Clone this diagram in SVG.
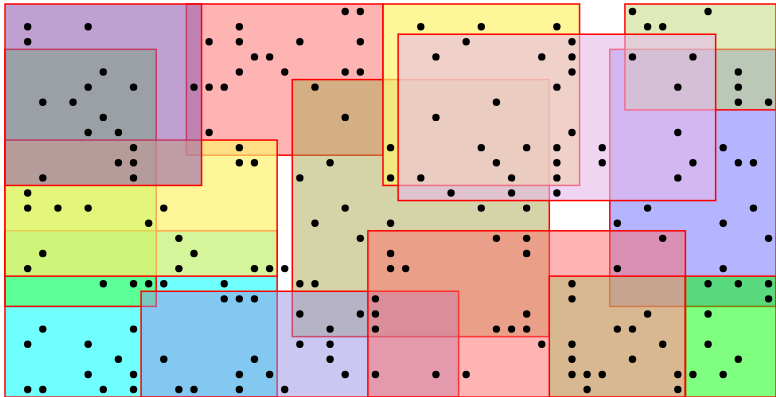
<svg xmlns="http://www.w3.org/2000/svg" width="776" height="397" viewBox="0 0 776 397">
<style>
.box{stroke:#ff0000;stroke-width:1.5}
.pt{fill:#000}
</style>
<rect width="776" height="397" fill="#ffffff"/>
<g id="boxes">
<rect id="pink-top" class="box" x="186.44" y="4" width="196.56" height="151.2" fill="#ff6969" fill-opacity="0.5"/>
<rect id="cyan" class="box" x="5" y="230.8" width="272.16" height="166.32" fill="#00ffff" fill-opacity="0.56"/>
<rect id="green-left" class="box" x="5" y="49.36" width="151.2" height="257.04" fill="#46ff32" fill-opacity="0.5"/>
<rect id="yellow-left" class="box" x="5" y="140.08" width="272.16" height="136.08" fill="#fff16e" fill-opacity="0.7"/>
<rect id="purple" class="box" x="5" y="4" width="196.56" height="181.44" fill="#9661b1" fill-opacity="0.6"/>
<rect id="olive" class="box" x="292.28" y="79.6" width="257.04" height="257.04" fill="#a9a951" fill-opacity="0.5"/>
<rect id="yellow-top" class="box" x="383" y="4" width="196.56" height="181.44" fill="#fff16e" fill-opacity="0.7"/>
<rect id="blue-right" class="box" x="609.8" y="49.36" width="166.32" height="257.04" fill="#6969ff" fill-opacity="0.5"/>
<rect id="lightgreen-top" class="box" x="624.92" y="4" width="151.2" height="105.84" fill="#c2d97c" fill-opacity="0.55"/>
<rect id="lavender" class="box" x="398.12" y="34.24" width="317.52" height="166.32" fill="#e6b9eb" fill-opacity="0.6"/>
<rect id="blue-bottom" class="box" x="141.08" y="291.28" width="317.52" height="105.84" fill="#9691e1" fill-opacity="0.5"/>
<rect id="pink-bottom" class="box" x="367.88" y="230.8" width="317.52" height="166.32" fill="#ff6969" fill-opacity="0.5"/>
<rect id="tan" class="box" x="549.32" y="276.16" width="136.08" height="120.96" fill="#b1bc6c" fill-opacity="0.5"/>
<rect id="green-right" class="box" x="685.4" y="276.16" width="90.72" height="120.96" fill="#00ff00" fill-opacity="0.5"/>
</g>
<g id="points" class="pt">
<circle cx="345.2" cy="11.56" r="3.7"/><circle cx="360.32" cy="11.56" r="3.7"/><circle cx="632.48" cy="11.56" r="3.7"/><circle cx="708.08" cy="11.56" r="3.7"/>
<circle cx="27.68" cy="26.68" r="3.7"/><circle cx="88.16" cy="26.68" r="3.7"/><circle cx="239.36" cy="26.68" r="3.7"/><circle cx="420.8" cy="26.68" r="3.7"/><circle cx="481.28" cy="26.68" r="3.7"/><circle cx="556.88" cy="26.68" r="3.7"/><circle cx="647.6" cy="26.68" r="3.7"/><circle cx="662.72" cy="26.68" r="3.7"/>
<circle cx="27.68" cy="41.8" r="3.7"/><circle cx="209.12" cy="41.8" r="3.7"/><circle cx="239.36" cy="41.8" r="3.7"/><circle cx="299.84" cy="41.8" r="3.7"/><circle cx="360.32" cy="41.8" r="3.7"/><circle cx="466.16" cy="41.8" r="3.7"/><circle cx="572" cy="41.8" r="3.7"/>
<circle cx="254.48" cy="56.92" r="3.7"/><circle cx="269.6" cy="56.92" r="3.7"/><circle cx="435.92" cy="56.92" r="3.7"/><circle cx="541.76" cy="56.92" r="3.7"/><circle cx="572" cy="56.92" r="3.7"/><circle cx="632.48" cy="56.92" r="3.7"/><circle cx="692.96" cy="56.92" r="3.7"/>
<circle cx="103.28" cy="72.04" r="3.7"/><circle cx="239.36" cy="72.04" r="3.7"/><circle cx="284.72" cy="72.04" r="3.7"/><circle cx="345.2" cy="72.04" r="3.7"/><circle cx="360.32" cy="72.04" r="3.7"/><circle cx="572" cy="72.04" r="3.7"/><circle cx="738.32" cy="72.04" r="3.7"/>
<circle cx="88.16" cy="87.16" r="3.7"/><circle cx="133.52" cy="87.16" r="3.7"/><circle cx="194" cy="87.16" r="3.7"/><circle cx="209.12" cy="87.16" r="3.7"/><circle cx="224.24" cy="87.16" r="3.7"/><circle cx="314.96" cy="87.16" r="3.7"/><circle cx="556.88" cy="87.16" r="3.7"/><circle cx="677.84" cy="87.16" r="3.7"/><circle cx="738.32" cy="87.16" r="3.7"/>
<circle cx="42.8" cy="102.28" r="3.7"/><circle cx="73.04" cy="102.28" r="3.7"/><circle cx="496.4" cy="102.28" r="3.7"/><circle cx="738.32" cy="102.28" r="3.7"/><circle cx="768.56" cy="102.28" r="3.7"/>
<circle cx="103.28" cy="117.4" r="3.7"/><circle cx="345.2" cy="117.4" r="3.7"/><circle cx="435.92" cy="117.4" r="3.7"/>
<circle cx="88.16" cy="132.52" r="3.7"/><circle cx="118.4" cy="132.52" r="3.7"/><circle cx="209.12" cy="132.52" r="3.7"/><circle cx="572" cy="132.52" r="3.7"/><circle cx="677.84" cy="132.52" r="3.7"/>
<circle cx="133.52" cy="147.64" r="3.7"/><circle cx="239.36" cy="147.64" r="3.7"/><circle cx="390.56" cy="147.64" r="3.7"/><circle cx="481.28" cy="147.64" r="3.7"/><circle cx="526.64" cy="147.64" r="3.7"/><circle cx="556.88" cy="147.64" r="3.7"/><circle cx="602.24" cy="147.64" r="3.7"/><circle cx="723.2" cy="147.64" r="3.7"/>
<circle cx="118.4" cy="162.76" r="3.7"/><circle cx="133.52" cy="162.76" r="3.7"/><circle cx="239.36" cy="162.76" r="3.7"/><circle cx="254.48" cy="162.76" r="3.7"/><circle cx="330.08" cy="162.76" r="3.7"/><circle cx="496.4" cy="162.76" r="3.7"/><circle cx="556.88" cy="162.76" r="3.7"/><circle cx="602.24" cy="162.76" r="3.7"/><circle cx="692.96" cy="162.76" r="3.7"/><circle cx="738.32" cy="162.76" r="3.7"/><circle cx="753.44" cy="162.76" r="3.7"/>
<circle cx="42.8" cy="177.88" r="3.7"/><circle cx="133.52" cy="177.88" r="3.7"/><circle cx="299.84" cy="177.88" r="3.7"/><circle cx="390.56" cy="177.88" r="3.7"/><circle cx="420.8" cy="177.88" r="3.7"/><circle cx="511.52" cy="177.88" r="3.7"/><circle cx="556.88" cy="177.88" r="3.7"/><circle cx="677.84" cy="177.88" r="3.7"/>
<circle cx="27.68" cy="193" r="3.7"/><circle cx="451.04" cy="193" r="3.7"/><circle cx="511.52" cy="193" r="3.7"/><circle cx="556.88" cy="193" r="3.7"/>
<circle cx="27.68" cy="208.12" r="3.7"/><circle cx="57.92" cy="208.12" r="3.7"/><circle cx="88.16" cy="208.12" r="3.7"/><circle cx="163.76" cy="208.12" r="3.7"/><circle cx="345.2" cy="208.12" r="3.7"/><circle cx="481.28" cy="208.12" r="3.7"/><circle cx="526.64" cy="208.12" r="3.7"/><circle cx="647.6" cy="208.12" r="3.7"/><circle cx="753.44" cy="208.12" r="3.7"/>
<circle cx="148.64" cy="223.24" r="3.7"/><circle cx="314.96" cy="223.24" r="3.7"/><circle cx="390.56" cy="223.24" r="3.7"/><circle cx="617.36" cy="223.24" r="3.7"/><circle cx="723.2" cy="223.24" r="3.7"/>
<circle cx="178.88" cy="238.36" r="3.7"/><circle cx="360.32" cy="238.36" r="3.7"/><circle cx="496.4" cy="238.36" r="3.7"/><circle cx="526.64" cy="238.36" r="3.7"/><circle cx="662.72" cy="238.36" r="3.7"/><circle cx="768.56" cy="238.36" r="3.7"/>
<circle cx="42.8" cy="253.48" r="3.7"/><circle cx="194" cy="253.48" r="3.7"/><circle cx="390.56" cy="253.48" r="3.7"/><circle cx="526.64" cy="253.48" r="3.7"/>
<circle cx="27.68" cy="268.6" r="3.7"/><circle cx="178.88" cy="268.6" r="3.7"/><circle cx="254.48" cy="268.6" r="3.7"/><circle cx="269.6" cy="268.6" r="3.7"/><circle cx="284.72" cy="268.6" r="3.7"/><circle cx="390.56" cy="268.6" r="3.7"/><circle cx="405.68" cy="268.6" r="3.7"/><circle cx="617.36" cy="268.6" r="3.7"/><circle cx="723.2" cy="268.6" r="3.7"/>
<circle cx="103.28" cy="283.72" r="3.7"/><circle cx="133.52" cy="283.72" r="3.7"/><circle cx="148.64" cy="283.72" r="3.7"/><circle cx="163.76" cy="283.72" r="3.7"/><circle cx="224.24" cy="283.72" r="3.7"/><circle cx="299.84" cy="283.72" r="3.7"/><circle cx="314.96" cy="283.72" r="3.7"/><circle cx="572" cy="283.72" r="3.7"/><circle cx="708.08" cy="283.72" r="3.7"/><circle cx="738.32" cy="283.72" r="3.7"/><circle cx="768.56" cy="283.72" r="3.7"/>
<circle cx="224.24" cy="298.84" r="3.7"/><circle cx="239.36" cy="298.84" r="3.7"/><circle cx="254.48" cy="298.84" r="3.7"/><circle cx="375.44" cy="298.84" r="3.7"/><circle cx="572" cy="298.84" r="3.7"/><circle cx="768.56" cy="298.84" r="3.7"/>
<circle cx="299.84" cy="313.96" r="3.7"/><circle cx="360.32" cy="313.96" r="3.7"/><circle cx="375.44" cy="313.96" r="3.7"/><circle cx="526.64" cy="313.96" r="3.7"/><circle cx="647.6" cy="313.96" r="3.7"/><circle cx="708.08" cy="313.96" r="3.7"/>
<circle cx="42.8" cy="329.08" r="3.7"/><circle cx="133.52" cy="329.08" r="3.7"/><circle cx="330.08" cy="329.08" r="3.7"/><circle cx="375.44" cy="329.08" r="3.7"/><circle cx="496.4" cy="329.08" r="3.7"/><circle cx="511.52" cy="329.08" r="3.7"/><circle cx="526.64" cy="329.08" r="3.7"/><circle cx="617.36" cy="329.08" r="3.7"/><circle cx="632.48" cy="329.08" r="3.7"/>
<circle cx="27.68" cy="344.2" r="3.7"/><circle cx="88.16" cy="344.2" r="3.7"/><circle cx="299.84" cy="344.2" r="3.7"/><circle cx="330.08" cy="344.2" r="3.7"/><circle cx="541.76" cy="344.2" r="3.7"/><circle cx="572" cy="344.2" r="3.7"/><circle cx="662.72" cy="344.2" r="3.7"/><circle cx="708.08" cy="344.2" r="3.7"/>
<circle cx="118.4" cy="359.32" r="3.7"/><circle cx="163.76" cy="359.32" r="3.7"/><circle cx="254.48" cy="359.32" r="3.7"/><circle cx="330.08" cy="359.32" r="3.7"/><circle cx="572" cy="359.32" r="3.7"/><circle cx="632.48" cy="359.32" r="3.7"/><circle cx="738.32" cy="359.32" r="3.7"/>
<circle cx="88.16" cy="374.44" r="3.7"/><circle cx="133.52" cy="374.44" r="3.7"/><circle cx="239.36" cy="374.44" r="3.7"/><circle cx="269.6" cy="374.44" r="3.7"/><circle cx="345.2" cy="374.44" r="3.7"/><circle cx="375.44" cy="374.44" r="3.7"/><circle cx="435.92" cy="374.44" r="3.7"/><circle cx="466.16" cy="374.44" r="3.7"/><circle cx="572" cy="374.44" r="3.7"/><circle cx="587.12" cy="374.44" r="3.7"/><circle cx="602.24" cy="374.44" r="3.7"/><circle cx="677.84" cy="374.44" r="3.7"/><circle cx="692.96" cy="374.44" r="3.7"/><circle cx="723.2" cy="374.44" r="3.7"/>
<circle cx="27.68" cy="389.56" r="3.7"/><circle cx="42.8" cy="389.56" r="3.7"/><circle cx="103.28" cy="389.56" r="3.7"/><circle cx="133.52" cy="389.56" r="3.7"/><circle cx="178.88" cy="389.56" r="3.7"/><circle cx="194" cy="389.56" r="3.7"/><circle cx="239.36" cy="389.56" r="3.7"/><circle cx="284.72" cy="389.56" r="3.7"/><circle cx="587.12" cy="389.56" r="3.7"/><circle cx="677.84" cy="389.56" r="3.7"/>
</g>
</svg>
